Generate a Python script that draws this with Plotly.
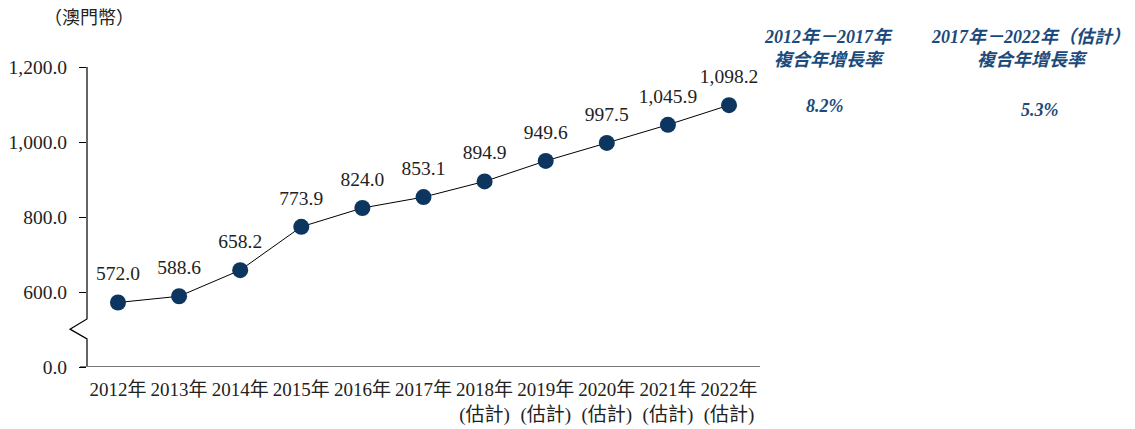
import plotly.graph_objects as go

years = ["2012年", "2013年", "2014年", "2015年", "2016年", "2017年",
         "2018年<br>(估計)", "2019年<br>(估計)", "2020年<br>(估計)",
         "2021年<br>(估計)", "2022年<br>(估計)"]
values = [572.0, 588.6, 658.2, 773.9, 824.0, 853.1, 894.9, 949.6, 997.5, 1045.9, 1098.2]
value_labels = ["572.0", "588.6", "658.2", "773.9", "824.0", "853.1", "894.9",
                "949.6", "997.5", "1,045.9", "1,098.2"]
ytick_vals = [400, 600, 800, 1000, 1200]
ytick_text = ["0.0", "600.0", "800.0", "1,000.0", "1,200.0"]
cagr_titles = ["<b><i>2012年－2017年</i></b><br><b><i>複合年增長率</i></b>",
               "<b><i>2017年－2022年（估計）</i></b><br><b><i>複合年增長率</i></b>"]
cagr_values = ["<b><i>8.2%</i></b>", "<b><i>5.3%</i></b>"]

FONT = "Liberation Serif, Noto Sans CJK TC, serif"
NAVY = "#0c3660"
CAGR_COLOR = "#1b4a7c"

x_idx = list(range(len(years)))

fig = go.Figure()
fig.add_trace(go.Scatter(
    x=x_idx, y=values, mode="lines+markers",
    line=dict(color="black", width=1),
    marker=dict(color=NAVY, size=16),
    hoverinfo="skip", showlegend=False, cliponaxis=False,
))
# value labels (invisible larger marker to lift the text a little)
fig.add_trace(go.Scatter(
    x=x_idx, y=values, mode="markers+text",
    marker=dict(color="rgba(0,0,0,0)", size=26),
    text=value_labels, textposition="top center",
    textfont=dict(family=FONT, size=19.5, color="#222222"),
    hoverinfo="skip", showlegend=False, cliponaxis=False,
))

W, H = 1135, 429
L, R, T, B = 87, 375, 67, 62
pw = W - L - R

def px2paper(px):
    return (px - L) / pw

# y-axis with break
fig.add_shape(type="path", xref="paper", yref="y",
              path=(f"M 0 1200 L 0 528 L {px2paper(70)} 501 L 0 475 L 0 400"),
              line=dict(color="black", width=1.2))
# x-axis line
fig.add_shape(type="line", xref="paper", yref="y",
              x0=px2paper(80), x1=1.0, y0=400, y1=400,
              line=dict(color="#777777", width=2))

fig.update_layout(
    width=W, height=H,
    margin=dict(l=L, r=R, t=T, b=B, autoexpand=False),
    plot_bgcolor="white", paper_bgcolor="white",
    font=dict(family=FONT, size=19, color="#222222"),
    xaxis=dict(range=[-0.507, 10.507], tickvals=x_idx, ticktext=years,
               tickangle=0, showline=False, showgrid=False, zeroline=False,
               ticks="", ticklabelstandoff=9, automargin=False,
               tickfont=dict(family=FONT, size=19, color="#222222")),
    yaxis=dict(range=[400, 1200], tickvals=ytick_vals, ticktext=ytick_text,
               showline=False, showgrid=False, zeroline=False,
               ticks="outside", ticklen=7, tickcolor="black", tickwidth=1,
               ticklabelstandoff=8, automargin=False,
               tickfont=dict(family=FONT, size=19.5, color="#222222")),
)

fig.add_annotation(xref="paper", yref="paper", x=px2paper(89), y=1 + (T - 18) / (H - T - B),
                   text="（澳門幣）", showarrow=False, xanchor="center", yanchor="middle",
                   font=dict(family=FONT, size=18, color="#222222"))

cagr_x = [828, 1030]
val_x = [825, 1040]
val_y = [106, 110]
for i in range(2):
    fig.add_annotation(xref="paper", yref="paper", x=px2paper(cagr_x[i]),
                       y=1 + (T - 48) / (H - T - B),
                       text=cagr_titles[i], showarrow=False, xanchor="center", yanchor="middle",
                       font=dict(family=FONT, size=18, color=CAGR_COLOR))
    fig.add_annotation(xref="paper", yref="paper", x=px2paper(val_x[i]),
                       y=1 - (val_y[i] - T) / (H - T - B),
                       text=cagr_values[i], showarrow=False, xanchor="center", yanchor="middle",
                       font=dict(family=FONT, size=18, color=CAGR_COLOR))

fig.write_html("out.html")
